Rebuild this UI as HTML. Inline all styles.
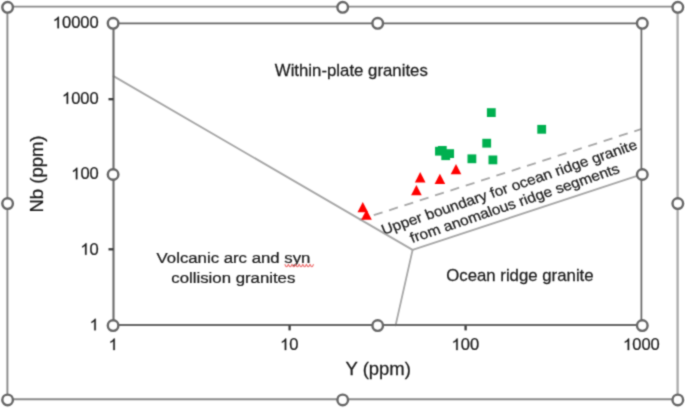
<!DOCTYPE html>
<html><head><meta charset="utf-8"><title>Nb-Y discrimination diagram</title>
<style>html,body{margin:0;padding:0;background:#fff;}body{width:685px;height:408px;overflow:hidden;font-family:"Liberation Sans",sans-serif;}svg{display:block;}text{font-family:"Liberation Sans",sans-serif;fill:#1c1c1c;stroke:#1c1c1c;stroke-width:0.25px;}</style>
</head><body>
<svg width="685" height="408" viewBox="0 0 685 408">
<defs><filter id="soft" x="0" y="0" width="685" height="408" filterUnits="userSpaceOnUse" color-interpolation-filters="sRGB"><feConvolveMatrix order="3" kernelMatrix="1 3 1 3 12 3 1 3 1" divisor="28" edgeMode="duplicate" preserveAlpha="true"/></filter></defs>
<g filter="url(#soft)">
<rect x="0" y="0" width="685" height="408" fill="#ffffff"/>
<path d="M677.6,6.6 L7.4,6.6 L7.4,399.2 L677.6,399.2" fill="none" stroke="#8a8a8a" stroke-width="1.9" stroke-linecap="square"/>
<line x1="677.6" y1="6.6" x2="677.6" y2="399.2" stroke="#aaaaaa" stroke-width="2.3"/>
<g stroke="#a6a6a6" stroke-width="1.8" fill="none" stroke-linecap="round">
<line x1="113.5" y1="76.1" x2="412.6" y2="249.9"/>
<line x1="412.6" y1="249.9" x2="395.6" y2="325.4"/>
<line x1="412.6" y1="249.9" x2="641.7" y2="174.3"/>
<line x1="359.6" y1="219.8" x2="641.7" y2="128.9" stroke-dasharray="9.2 6.9" stroke-dashoffset="1.2" stroke-linecap="butt"/>
</g>
<line x1="113.5" y1="23.3" x2="641.7" y2="23.3" stroke="#666666" stroke-width="1.8"/>
<line x1="641.4000000000001" y1="23.3" x2="641.4000000000001" y2="325.4" stroke="#666666" stroke-width="1.7"/>
<line x1="113.5" y1="23.3" x2="113.5" y2="325.4" stroke="#6a6a6a" stroke-width="2.1"/>
<line x1="113.5" y1="324.9" x2="641.7" y2="324.9" stroke="#666666" stroke-width="2.0"/>
<g stroke="#3c3c3c" stroke-width="2.3">
<line x1="108.5" y1="99.2" x2="113.5" y2="99.2"/>
<line x1="108.5" y1="174.2" x2="113.5" y2="174.2"/>
<line x1="108.5" y1="249.3" x2="113.5" y2="249.3"/>
<line x1="289.6" y1="325.4" x2="289.6" y2="330.4"/>
<line x1="465.6" y1="325.4" x2="465.6" y2="330.4"/>
</g>
<path d="M763 0H583V1147Q518 1085 412.5 1023T223 930V1104Q373 1174.5 485 1275T644 1470H763V0Z" transform="translate(52.75,28.20) scale(0.008086,-0.007812)" fill="#1c1c1c" stroke="#1c1c1c" stroke-width="32"/>
<text transform="translate(61.96,28.20) scale(1.035,1)" font-size="16" text-anchor="start">0000</text>
<path d="M763 0H583V1147Q518 1085 412.5 1023T223 930V1104Q373 1174.5 485 1275T644 1470H763V0Z" transform="translate(61.96,103.72) scale(0.008086,-0.007812)" fill="#1c1c1c" stroke="#1c1c1c" stroke-width="32"/>
<text transform="translate(71.17,103.72) scale(1.035,1)" font-size="16" text-anchor="start">000</text>
<path d="M763 0H583V1147Q518 1085 412.5 1023T223 930V1104Q373 1174.5 485 1275T644 1470H763V0Z" transform="translate(71.17,179.25) scale(0.008086,-0.007812)" fill="#1c1c1c" stroke="#1c1c1c" stroke-width="32"/>
<text transform="translate(80.38,179.25) scale(1.035,1)" font-size="16" text-anchor="start">00</text>
<path d="M763 0H583V1147Q518 1085 412.5 1023T223 930V1104Q373 1174.5 485 1275T644 1470H763V0Z" transform="translate(80.38,254.78) scale(0.008086,-0.007812)" fill="#1c1c1c" stroke="#1c1c1c" stroke-width="32"/>
<text transform="translate(89.59,254.78) scale(1.035,1)" font-size="16" text-anchor="start">0</text>
<path d="M763 0H583V1147Q518 1085 412.5 1023T223 930V1104Q373 1174.5 485 1275T644 1470H763V0Z" transform="translate(89.59,330.30) scale(0.008086,-0.007812)" fill="#1c1c1c" stroke="#1c1c1c" stroke-width="32"/>
<path d="M763 0H583V1147Q518 1085 412.5 1023T223 930V1104Q373 1174.5 485 1275T644 1470H763V0Z" transform="translate(108.60,350.10) scale(0.008086,-0.007812)" fill="#1c1c1c" stroke="#1c1c1c" stroke-width="32"/>
<path d="M763 0H583V1147Q518 1085 412.5 1023T223 930V1104Q373 1174.5 485 1275T644 1470H763V0Z" transform="translate(280.06,350.10) scale(0.008086,-0.007812)" fill="#1c1c1c" stroke="#1c1c1c" stroke-width="32"/>
<text transform="translate(289.27,350.10) scale(1.035,1)" font-size="16" text-anchor="start">0</text>
<path d="M763 0H583V1147Q518 1085 412.5 1023T223 930V1104Q373 1174.5 485 1275T644 1470H763V0Z" transform="translate(451.52,350.10) scale(0.008086,-0.007812)" fill="#1c1c1c" stroke="#1c1c1c" stroke-width="32"/>
<text transform="translate(460.73,350.10) scale(1.035,1)" font-size="16" text-anchor="start">00</text>
<path d="M763 0H583V1147Q518 1085 412.5 1023T223 930V1104Q373 1174.5 485 1275T644 1470H763V0Z" transform="translate(622.98,350.10) scale(0.008086,-0.007812)" fill="#1c1c1c" stroke="#1c1c1c" stroke-width="32"/>
<text transform="translate(632.19,350.10) scale(1.035,1)" font-size="16" text-anchor="start">000</text>
<text transform="translate(378.20,375.30) scale(1.05,1)" font-size="17.6" text-anchor="middle">Y (ppm)</text>
<text transform="translate(43.30,174.00) rotate(-90) scale(1.05,1)" font-size="17.6" text-anchor="middle">Nb (ppm)</text>
<text transform="translate(351.30,76.30) scale(1.05,1)" font-size="16" text-anchor="middle">Within-plate granites</text>
<text transform="translate(233.50,263.00) scale(1.098,1)" font-size="15.3" text-anchor="middle">Volcanic arc and syn</text>
<text transform="translate(233.30,282.60) scale(1.098,1)" font-size="15.3" text-anchor="middle">collision granites</text>
<text transform="translate(519.90,281.30) scale(1.05,1)" font-size="16" text-anchor="middle">Ocean ridge granite</text>
<path d="M284.8,264.3 q1.8,4.8 3.6,0 q1.8,4.8 3.6,0 q1.8,4.8 3.6,0 q1.8,4.8 3.6,0 q1.8,4.8 3.6,0 q1.8,4.8 3.6,0 q1.8,4.8 3.6,0 q1.8,4.8 3.6,0" fill="none" stroke="#ee7070" stroke-width="1.1" stroke-linejoin="round"/>
<text transform="translate(511.00,191.70) scale(1.098,1) rotate(-20.39)" font-size="14.17" text-anchor="middle">Upper boundary for ocean ridge granite</text>
<text transform="translate(516.50,207.70) scale(1.098,1) rotate(-20.39)" font-size="14.17" text-anchor="middle">from anomalous ridge segments</text>
<g fill="#00b050">
<rect x="486.90" y="108.20" width="8.8" height="8.8"/>
<rect x="537.30" y="124.90" width="8.8" height="8.8"/>
<rect x="482.30" y="138.80" width="8.8" height="8.8"/>
<rect x="435.05" y="146.80" width="8.8" height="8.8"/>
<rect x="437.90" y="146.00" width="8.8" height="8.8"/>
<rect x="445.25" y="149.20" width="8.8" height="8.8"/>
<rect x="441.30" y="151.30" width="8.8" height="8.8"/>
<rect x="467.50" y="154.40" width="8.8" height="8.8"/>
<rect x="488.50" y="155.50" width="8.8" height="8.8"/>
</g>
<g fill="#ff0000">
<path d="M456.0,163.9 L461.3,174.2 L450.7,174.2 Z"/>
<path d="M420.2,172.1 L425.5,182.4 L414.9,182.4 Z"/>
<path d="M439.9,173.7 L445.2,184.0 L434.6,184.0 Z"/>
<path d="M416.4,184.9 L421.7,195.2 L411.1,195.2 Z"/>
<path d="M362.8,201.9 L368.1,212.2 L357.5,212.2 Z"/>
<path d="M366.5,209.5 L371.8,219.8 L361.2,219.8 Z"/>
</g>
<g fill="#ffffff" stroke="#666666" stroke-width="2.4">
<circle cx="7.6" cy="7.3" r="5.3"/>
<circle cx="342.7" cy="7.3" r="5.3"/>
<circle cx="677.8" cy="7.3" r="5.3"/>
<circle cx="7.6" cy="203.6" r="5.3"/>
<circle cx="677.8" cy="203.6" r="5.3"/>
<circle cx="7.6" cy="399.9" r="5.3"/>
<circle cx="342.7" cy="399.9" r="5.3"/>
<circle cx="677.8" cy="399.9" r="5.3"/>
<circle cx="113.1" cy="23.3" r="5.3"/>
<circle cx="377.7" cy="23.3" r="5.3"/>
<circle cx="642.3" cy="23.3" r="5.3"/>
<circle cx="113.1" cy="174.5" r="5.3"/>
<circle cx="642.3" cy="174.5" r="5.3"/>
<circle cx="113.1" cy="325.6" r="5.3"/>
<circle cx="377.7" cy="325.6" r="5.3"/>
<circle cx="642.3" cy="325.6" r="5.3"/>
</g>
</g>
</svg>
</body></html>
